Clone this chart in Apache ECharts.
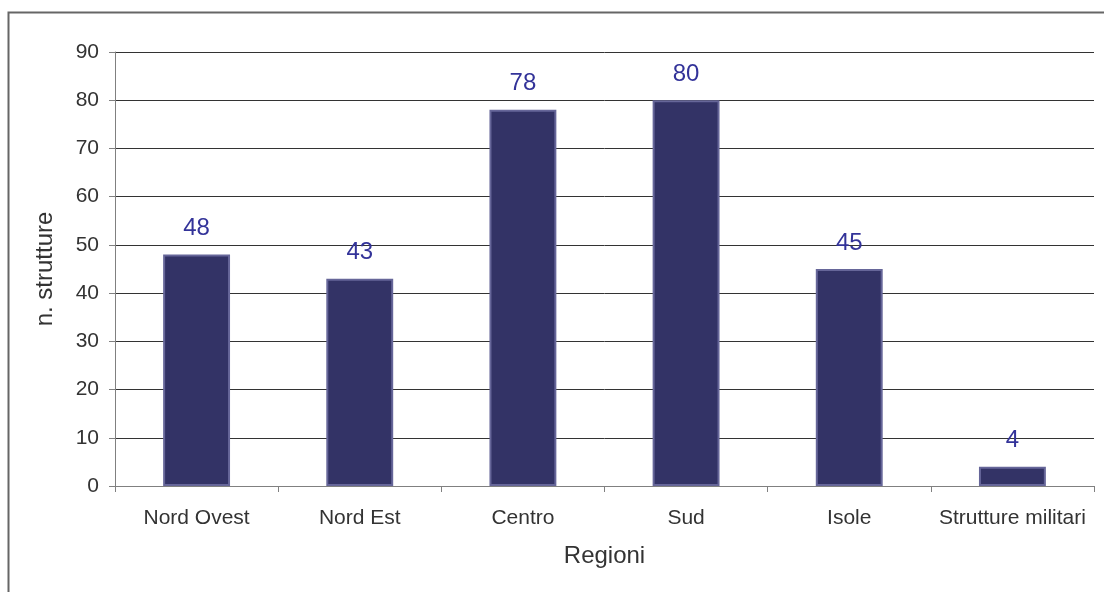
<!DOCTYPE html>
<html>
<head>
<meta charset="utf-8">
<script src="https://cdn.jsdelivr.net/npm/echarts@6/dist/echarts.min.js"></script>
<style>html,body{margin:0;padding:0;background:#fff}#c{width:1104px;height:592px}</style>
</head>
<body>
<div id="c"></div>
<script>
const categories = ["Nord Ovest", "Nord Est", "Centro", "Sud", "Isole", "Strutture militari"];
const values = [48, 43, 78, 80, 45, 4];
const yTitle = "n. strutture";
const xTitle = "Regioni";

const chart = echarts.init(document.getElementById('c'), null, {renderer: 'canvas'});
const font = 'Liberation Sans, Arial, sans-serif';
chart.setOption({
  animation: false,
  backgroundColor: '#fff',
  graphic: [{
    type: 'rect', silent: true, z: 0,
    shape: {x: 8.5, y: 12.5, width: 1200, height: 700},
    style: {fill: 'none', stroke: '#666', lineWidth: 2}
  }],
  grid: {left: 115, right: 10, top: 52, bottom: 106},
  xAxis: {
    type: 'category', data: categories,
    name: xTitle, nameLocation: 'middle', nameGap: 58,
    nameTextStyle: {fontFamily: font, fontSize: 24, color: '#333'},
    axisLine: {lineStyle: {color: '#808080', width: 1}},
    axisTick: {show: true, length: 6, lineStyle: {color: '#808080'}},
    axisLabel: {fontFamily: font, fontSize: 21, color: '#333', margin: 22, interval: 0}
  },
  yAxis: {
    type: 'value', min: 0, max: 90, interval: 10,
    name: yTitle, nameLocation: 'middle', nameGap: 58, nameRotate: 90,
    nameTextStyle: {fontFamily: font, fontSize: 24, color: '#333'},
    axisLine: {show: true, lineStyle: {color: '#808080', width: 1}},
    axisTick: {show: true, length: 6, lineStyle: {color: '#808080'}},
    axisLabel: {fontFamily: font, fontSize: 21, color: '#333', margin: 16},
    splitLine: {show: true, lineStyle: {color: '#333', width: 1}}
  },
  series: [{
    type: 'bar', data: values, barWidth: '41%',
    itemStyle: {color: '#333366', borderColor: '#666699', borderWidth: 2},
    label: {show: true, position: 'top', distance: 14, fontFamily: font, fontSize: 24, color: '#333399'}
  }]
});
</script>
</body>
</html>
